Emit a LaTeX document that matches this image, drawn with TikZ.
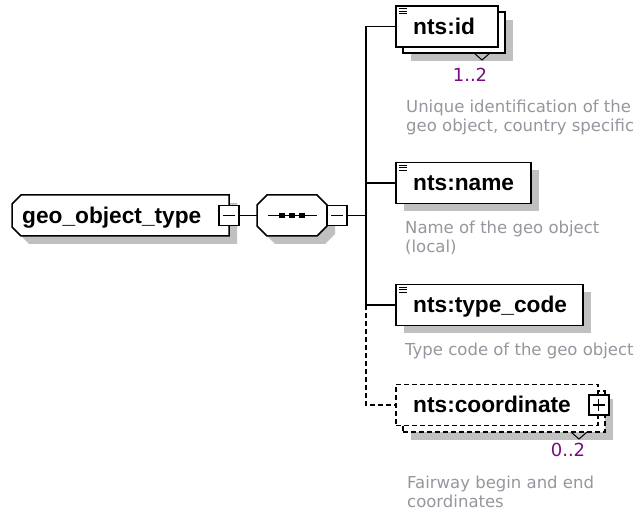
\documentclass[tikz,border=0pt]{standalone}
\usepackage{fontspec}
\setmainfont{Liberation Sans}
\newfontfamily\descfont{DejaVu Sans}
\usetikzlibrary{shadows}
\definecolor{shadowgray}{RGB}{192,192,192}
\definecolor{descgray}{RGB}{150,150,158}
\definecolor{occur}{RGB}{120,10,130}
\tikzset{
  elem/.style={draw, fill=white, rectangle, inner sep=0pt, line width=1.5pt},
  shad/.style={drop shadow={shadow xshift=8pt, shadow yshift=-8pt, fill=shadowgray, opacity=1}},
  ename/.style={anchor=base west, inner sep=0pt, font=\fontsize{22.7}{26}\selectfont\bfseries},
  desc/.style={anchor=north west, inner sep=0pt, align=left, text=descgray, font=\descfont\fontsize{16.5}{18.5}\selectfont},
  occ/.style={inner sep=0pt, text=occur, font=\descfont\fontsize{18}{20}\selectfont},
  pm/.style={draw, fill=white, minimum size=20pt, inner sep=0pt, line width=1.5pt},
  conn/.style={line width=1.5pt},
  dconn/.style={line width=1.5pt, dash pattern=on 5pt off 3pt},
  dashbox/.style={dash pattern=on 5pt off 3pt},
  icon/.style={line width=1.1pt},
  tri/.style={line width=1pt},
}
\begin{document}
\begin{tikzpicture}[x=1pt,y=-1pt]
\useasboundingbox (0,0) rectangle (643,518);

% ---- geo_object_type (complex type) ----
\fill[shadowgray] (29,203) -- (237,203) -- (237,244) -- (29,244) -- (20,235) -- (20,212) -- cycle;
\draw[line width=1.5pt, fill=white] (21,195) -- (229,195) -- (229,236) -- (21,236) -- (12,227) -- (12,204) -- cycle;
\node[ename] (geo) at (22,223.5) {geo\_object\_type};
\node[pm] (geominus) at (229,215.5) {};
\draw[line width=1.1pt] ([xshift=-6pt]geominus.center) -- ([xshift=6pt]geominus.center);

% ---- sequence ----
\fill[shadowgray] (275,203) -- (325,203) -- (335,213) -- (335,234) -- (325,244) -- (275,244) -- (265,234) -- (265,213) -- cycle;
\draw[line width=1.5pt, fill=white] (267,195) -- (317,195) -- (327,205) -- (327,226) -- (317,236) -- (267,236) -- (257,226) -- (257,205) -- cycle;
\node[minimum width=70pt, minimum height=41pt, inner sep=0pt] (seq) at (292,215.5) {};
\draw[line width=1.5pt] (268,215.5) -- (317,215.5);
\foreach \sx in {282,292,302} \fill (\sx-2.8,212.7) rectangle (\sx+2.8,218.3);
\node[pm] (seqminus) at (337,215.5) {};
\draw[line width=1.1pt] ([xshift=-6pt]seqminus.center) -- ([xshift=6pt]seqminus.center);

\draw[conn] (geominus.east) -- (seq.west);

% ---- nts:id ----
\node[elem, shad, minimum width=102pt, minimum height=41pt] (idb) at (454,32.5) {};
\node[elem, minimum width=102pt, minimum height=41pt] (idf) at (447,26.5) {};
\node[ename] (idt) at (413,34.5) {nts:id};
\draw[tri] (474,53) -- (482,60) -- (490,53);
\node[occ] (idocc) at (470,75) {1..2};
\node[desc] (iddesc) at (406,100) {Unique identification of the\\geo object, country specific};

% ---- nts:name ----
\node[elem, shad, minimum width=135pt, minimum height=41pt] (nm) at (463.5,183) {};
\node[ename] (nmt) at (413,191) {nts:name};
\node[desc] (nmdesc) at (405,221) {Name of the geo object\\(local)};

% ---- nts:type_code ----
\node[elem, shad, minimum width=187pt, minimum height=41pt] (tc) at (489.5,305) {};
\node[ename] (tct) at (413,313) {nts:type\_code};
\node[desc] (tcdesc) at (405,343) {Type code of the geo object};

% ---- nts:coordinate ----
\node[elem, dashbox, shad, minimum width=202pt, minimum height=41pt] (cob) at (504,411.5) {};
\node[elem, dashbox, minimum width=202pt, minimum height=41pt] (cof) at (497,405) {};
\node[ename] (cot) at (413,413) {nts:coordinate};
\node[pm] (coplus) at (cof.east) {};
\draw[line width=1.1pt] ([xshift=-6pt]coplus.center) -- ([xshift=6pt]coplus.center);
\draw[line width=1.1pt] ([yshift=-6pt]coplus.center) -- ([yshift=6pt]coplus.center);
\draw[tri] (571,432) -- (579,439) -- (587,432);
\node[occ] (coocc) at (568,450) {0..2};
\node[desc] (codesc) at (407,476) {Fairway begin and end\\coordinates};

% ---- element icons ----
\foreach \n in {idf,nm,tc} {
  \foreach \dy in {3.5,6,8.5}
    \draw[icon] ([xshift=4pt,yshift=-\dy pt]\n.north west) -- ([xshift=12pt,yshift=-\dy pt]\n.north west);
}

% ---- connectors ----
\coordinate (vj) at (366,215.5);
\draw[conn] (seqminus.east) -- (vj);
\draw[conn] (idf.west -| vj) -- (tc.west -| vj);
\draw[conn] (idf.west -| vj) -- (idf.west);
\draw[conn] (nm.west -| vj) -- (nm.west);
\draw[conn] (tc.west -| vj) -- (tc.west);
\draw[dconn] (tc.west -| vj) -- (cof.west -| vj) -- (cof.west);
\end{tikzpicture}
\end{document}
